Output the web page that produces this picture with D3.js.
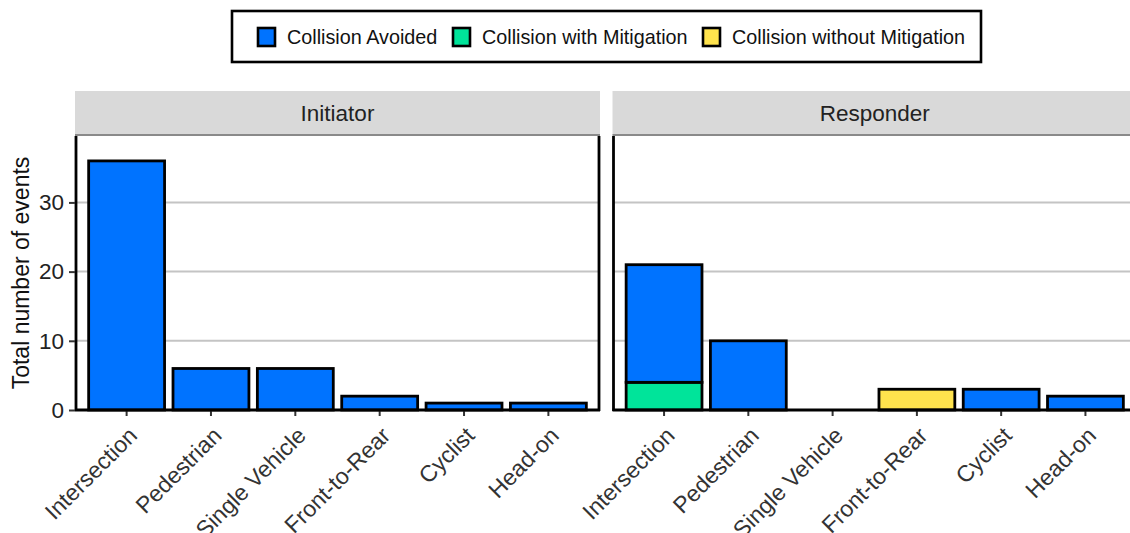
<!DOCTYPE html>
<html>
<head>
<meta charset="utf-8">
<script src="https://cdn.jsdelivr.net/npm/d3@7"></script>
<style>
  html, body { margin: 0; padding: 0; background: #fff; }
  svg { display: block; font-family: "Liberation Sans", Arial, Helvetica, sans-serif; }
</style>
</head>
<body>
<svg id="chart" width="1130" height="533"></svg>
<script>
// ---- data ----
const categories = ["Intersection", "Pedestrian", "Single Vehicle", "Front-to-Rear", "Cyclist", "Head-on"];
const panels = ["Initiator", "Responder"];
const seriesNames = ["Collision Avoided", "Collision with Mitigation", "Collision without Mitigation"];
const seriesColors = ["#0073ff", "#00e49a", "#ffe34d"];
const initiatorAvoided = [36, 6, 6, 2, 1, 1];
const initiatorWithMitigation = [0, 0, 0, 0, 0, 0];
const initiatorWithoutMitigation = [0, 0, 0, 0, 0, 0];
const responderAvoided = [17, 10, 0, 0, 3, 2];
const responderWithMitigation = [4, 0, 0, 0, 0, 0];
const responderWithoutMitigation = [0, 0, 0, 3, 0, 0];
const yTicks = [0, 10, 20, 30];
const yMax = 39.6;
const yTitle = "Total number of events";

const panelData = {
  "Initiator": [initiatorAvoided, initiatorWithMitigation, initiatorWithoutMitigation],
  "Responder": [responderAvoided, responderWithMitigation, responderWithoutMitigation]
};

// ---- layout ----
const svg = d3.select("#chart");
const plotTop = 136, plotBottom = 410;
const panelX = [[76, 599], [613.5, 1136]];
const y = d3.scaleLinear().domain([0, yMax]).range([plotBottom, plotTop]);
const color = d3.scaleOrdinal().domain(seriesNames).range(seriesColors);
// stack order: bottom -> top
const stackKeys = ["Collision with Mitigation", "Collision without Mitigation", "Collision Avoided"];

panels.forEach((p, pi) => {
  const [x0, x1] = panelX[pi];
  const x = d3.scaleBand().domain(categories).range([x0, x1]).paddingInner(0.1).paddingOuter(0.15);
  const g = svg.append("g");

  // strip
  g.append("rect").attr("x", x0 - 1).attr("y", 91).attr("width", x1 - x0 + 2).attr("height", 44)
    .attr("fill", "#d9d9d9");
  g.append("line").attr("x1", x0 - 1).attr("x2", x1 + 1).attr("y1", 135).attr("y2", 135)
    .attr("stroke", "#8a8a8a").attr("stroke-width", 2);
  g.append("text").attr("x", (x0 + x1) / 2).attr("y", 113).attr("dy", "0.35em")
    .attr("text-anchor", "middle").attr("font-size", 22.5).attr("fill", "#222").text(p);

  // grid
  g.selectAll(".grid").data(yTicks.filter(d => d > 0)).join("line")
    .attr("x1", x0).attr("x2", x1).attr("y1", d => y(d)).attr("y2", d => y(d))
    .attr("stroke", "#c4c4c4").attr("stroke-width", 2);

  // bars
  const rows = categories.map((c, i) => {
    const r = { category: c };
    seriesNames.forEach((s, si) => { r[s] = panelData[p][si][i]; });
    return r;
  });
  const stacked = d3.stack().keys(stackKeys)(rows);
  stacked.forEach(layer => {
    g.append("g").selectAll("rect").data(layer.filter(d => d[1] - d[0] > 0)).join("rect")
      .attr("x", d => x(d.data.category))
      .attr("width", x.bandwidth())
      .attr("y", d => y(d[1]))
      .attr("height", d => y(d[0]) - y(d[1]))
      .attr("fill", color(layer.key))
      .attr("stroke", "#000").attr("stroke-width", 2.8);
  });

  // x axis
  const xAxis = d3.axisBottom(x).tickSize(6).tickPadding(4);
  const xg = g.append("g").attr("transform", `translate(0,${plotBottom})`).call(xAxis);
  xg.select(".domain").remove();
  xg.selectAll(".tick line").attr("stroke", "#333").attr("stroke-width", 2);
  xg.selectAll(".tick text")
    .attr("font-size", 23).attr("fill", "#333")
    .attr("text-anchor", "end")
    .attr("dy", 0)
    .attr("transform", "translate(12,27) rotate(-45)")
    .attr("x", 0).attr("y", 0);

  // panel border lines: left, right, bottom
  g.append("line").attr("x1", x0).attr("x2", x0).attr("y1", plotTop).attr("y2", plotBottom + 1)
    .attr("stroke", "#000").attr("stroke-width", 2.8);
  g.append("line").attr("x1", x1).attr("x2", x1).attr("y1", plotTop).attr("y2", plotBottom + 1)
    .attr("stroke", "#000").attr("stroke-width", 2.8);
  g.append("line").attr("x1", x0 - 1).attr("x2", x1 + 1).attr("y1", plotBottom).attr("y2", plotBottom)
    .attr("stroke", "#000").attr("stroke-width", 2.8);

  // y axis only on first panel
  if (pi === 0) {
    const yAxis = d3.axisLeft(y).tickValues(yTicks).tickSize(6).tickPadding(5);
    const yg = g.append("g").attr("transform", `translate(${x0 - 1},0)`).call(yAxis);
    yg.select(".domain").remove();
    yg.selectAll(".tick line").attr("stroke", "#333").attr("stroke-width", 2);
    yg.selectAll(".tick text").attr("font-size", 22.5).attr("fill", "#222");
  }
});

// y title
svg.append("text")
  .attr("transform", `translate(21,${(plotTop + plotBottom) / 2}) rotate(-90)`)
  .attr("text-anchor", "middle").attr("dy", "0.35em")
  .attr("font-size", 23).attr("fill", "#111").text(yTitle);

// legend
const lg = svg.append("g");
lg.append("rect").attr("x", 232).attr("y", 11).attr("width", 749).attr("height", 51)
  .attr("fill", "#fff").attr("stroke", "#000").attr("stroke-width", 2.6);
const legendKeyX = [258, 453, 703];
const legendTextX = [287, 482, 732];
seriesNames.forEach((s, i) => {
  lg.append("rect").attr("x", legendKeyX[i]).attr("y", 28).attr("width", 17).attr("height", 18)
    .attr("fill", color(s)).attr("stroke", "#000").attr("stroke-width", 2.6);
  lg.append("text").attr("x", legendTextX[i]).attr("y", 37).attr("dy", "0.35em")
    .attr("font-size", 19.8).attr("fill", "#111").text(s);
});
</script>
</body>
</html>
